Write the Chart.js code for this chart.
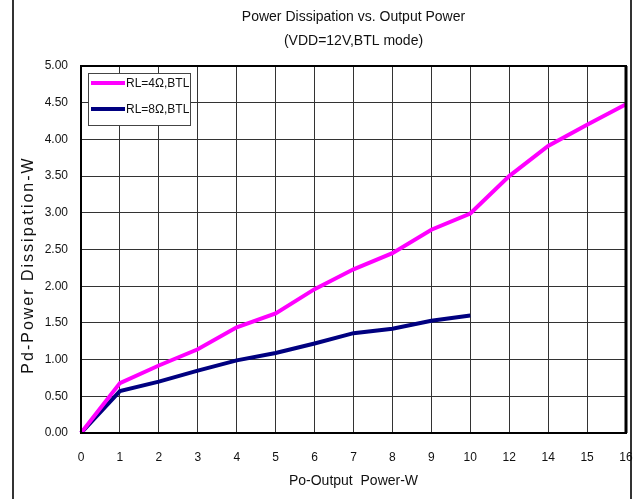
<!DOCTYPE html>
<html>
<head>
<meta charset="utf-8">
<script src="https://cdn.jsdelivr.net/npm/chart.js@4.4.0/dist/chart.umd.min.js"></script>
<style>
    html, body { margin: 0; padding: 0; background: #fff; }
    #wrap { width: 640px; height: 499px; }
</style>
</head>
<body>
<div id="wrap"><canvas id="myChart" width="640" height="499"></canvas></div>
<script>
// Output power categories (axis is not linear: 10 -> 12 -> 14 -> 15 -> 16)
var outputPower = ['0', '1', '2', '3', '4', '5', '6', '7', '8', '9', '10', '12', '14', '15', '16'];
// Pd for RL=4 ohm, BTL
var pd4ohm = [0, 0.68, 0.92, 1.14, 1.44, 1.63, 1.96, 2.23, 2.45, 2.77, 2.99, 3.50, 3.91, 4.20, 4.48];
// Pd for RL=8 ohm, BTL (stops at 10 W)
var pd8ohm = [0, 0.57, 0.70, 0.85, 0.99, 1.09, 1.22, 1.36, 1.42, 1.53, 1.60];
var seriesNames = ['RL=4Ω,BTL', 'RL=8Ω,BTL'];
var titleLines = ['Power Dissipation vs. Output Power', '(VDD=12V,BTL mode)'];

var FONT = "'Liberation Sans Narrow', 'Liberation Sans', Arial, sans-serif";

var extras = {
    id: 'extras',
    beforeDraw: function (chart) {
        var ctx = chart.ctx;
        ctx.save();
        ctx.fillStyle = '#fff';
        ctx.fillRect(0, 0, chart.width, chart.height);
        // outer frame (only left/right edges visible)
        ctx.strokeStyle = '#333';
        ctx.lineWidth = 2;
        ctx.beginPath();
        ctx.moveTo(13, 0); ctx.lineTo(13, chart.height);
        ctx.moveTo(631, 0); ctx.lineTo(631, chart.height);
        ctx.stroke();
        ctx.restore();
    },
    afterDraw: function (chart) {
        var ctx = chart.ctx;
        var a = chart.chartArea;
        ctx.save();

        // plot frame
        ctx.strokeStyle = '#000';
        ctx.lineWidth = 2;
        ctx.strokeRect(a.left, a.top, a.right - a.left, a.bottom - a.top);
        ctx.lineWidth = 3;
        ctx.beginPath();
        ctx.moveTo(a.right, a.top); ctx.lineTo(a.right, a.bottom);
        ctx.stroke();

        // title
        ctx.fillStyle = '#111';
        ctx.font = '14px ' + FONT;
        ctx.textAlign = 'center';
        ctx.textBaseline = 'middle';
        var cx = (a.left + a.right) / 2;
        ctx.fillText(titleLines[0], cx, 17);
        ctx.fillText(titleLines[1], cx, 41);

        // y axis title, letter spaced
        ctx.save();
        ctx.translate(29, 265);
        ctx.rotate(-Math.PI / 2);
        ctx.font = '16px ' + FONT;
        ctx.letterSpacing = '2px';
        ctx.fillText('Pd-Power Dissipation-W', 0, 0);
        ctx.restore();

        // legend box inside plot
        var bx = 88, by = 73, bw = 102, bh = 52;
        ctx.fillStyle = '#fff';
        ctx.fillRect(bx, by, bw, bh);
        ctx.strokeStyle = '#444';
        ctx.lineWidth = 1;
        ctx.strokeRect(bx + 0.5, by + 0.5, bw, bh);
        ctx.font = '12px ' + FONT;
        ctx.textAlign = 'left';
        chart.data.datasets.forEach(function (ds, i) {
            var ly = by + 10 + i * 26;
            ctx.strokeStyle = ds.borderColor;
            ctx.lineWidth = 4;
            ctx.beginPath();
            ctx.moveTo(bx + 3, ly); ctx.lineTo(bx + 37, ly);
            ctx.stroke();
            ctx.fillStyle = '#111';
            ctx.fillText(ds.label, bx + 38, ly + 1);
        });
        ctx.restore();
    }
};

var ctx = document.getElementById('myChart').getContext('2d');
var myChart = new Chart(ctx, {
    type: 'line',
    data: {
        labels: outputPower,
        datasets: [{
            label: seriesNames[0],
            data: pd4ohm,
            borderColor: '#ff00ff',
            borderWidth: 4,
            pointRadius: 0,
            fill: false,
            tension: 0
        }, {
            label: seriesNames[1],
            data: pd8ohm,
            borderColor: '#000080',
            borderWidth: 4,
            pointRadius: 0,
            fill: false,
            tension: 0
        }]
    },
    options: {
        responsive: false,
        animation: false,
        layout: { padding: { left: 0, right: 14, top: 66, bottom: 0 } },
        plugins: {
            legend: { display: false },
            tooltip: { enabled: false },
            title: { display: false }
        },
        scales: {
            x: {
                offset: false,
                grid: { color: '#333', lineWidth: 1, drawTicks: false },
                border: { display: false },
                ticks: { color: '#111', font: { family: FONT, size: 12 }, padding: 17, maxRotation: 0, autoSkip: false },
                title: { display: true, text: 'Po-Output  Power-W', color: '#111', font: { family: FONT, size: 14 }, padding: 9 },
                afterFit: function (s) {
                    s.height = 66;
                    s.paddingLeft = 0;
                    s.paddingRight = 0;
                }
            },
            y: {
                min: 0,
                max: 5,
                grid: { color: '#333', lineWidth: 1, drawTicks: false },
                border: { display: false },
                ticks: {
                    stepSize: 0.5,
                    color: '#111',
                    font: { family: FONT, size: 12 },
                    padding: 13,
                    callback: function (v) { return v.toFixed(2); }
                },
                afterFit: function (s) { s.width = 81; }
            }
        }
    },
    plugins: [extras]
});
</script>
</body>
</html>
